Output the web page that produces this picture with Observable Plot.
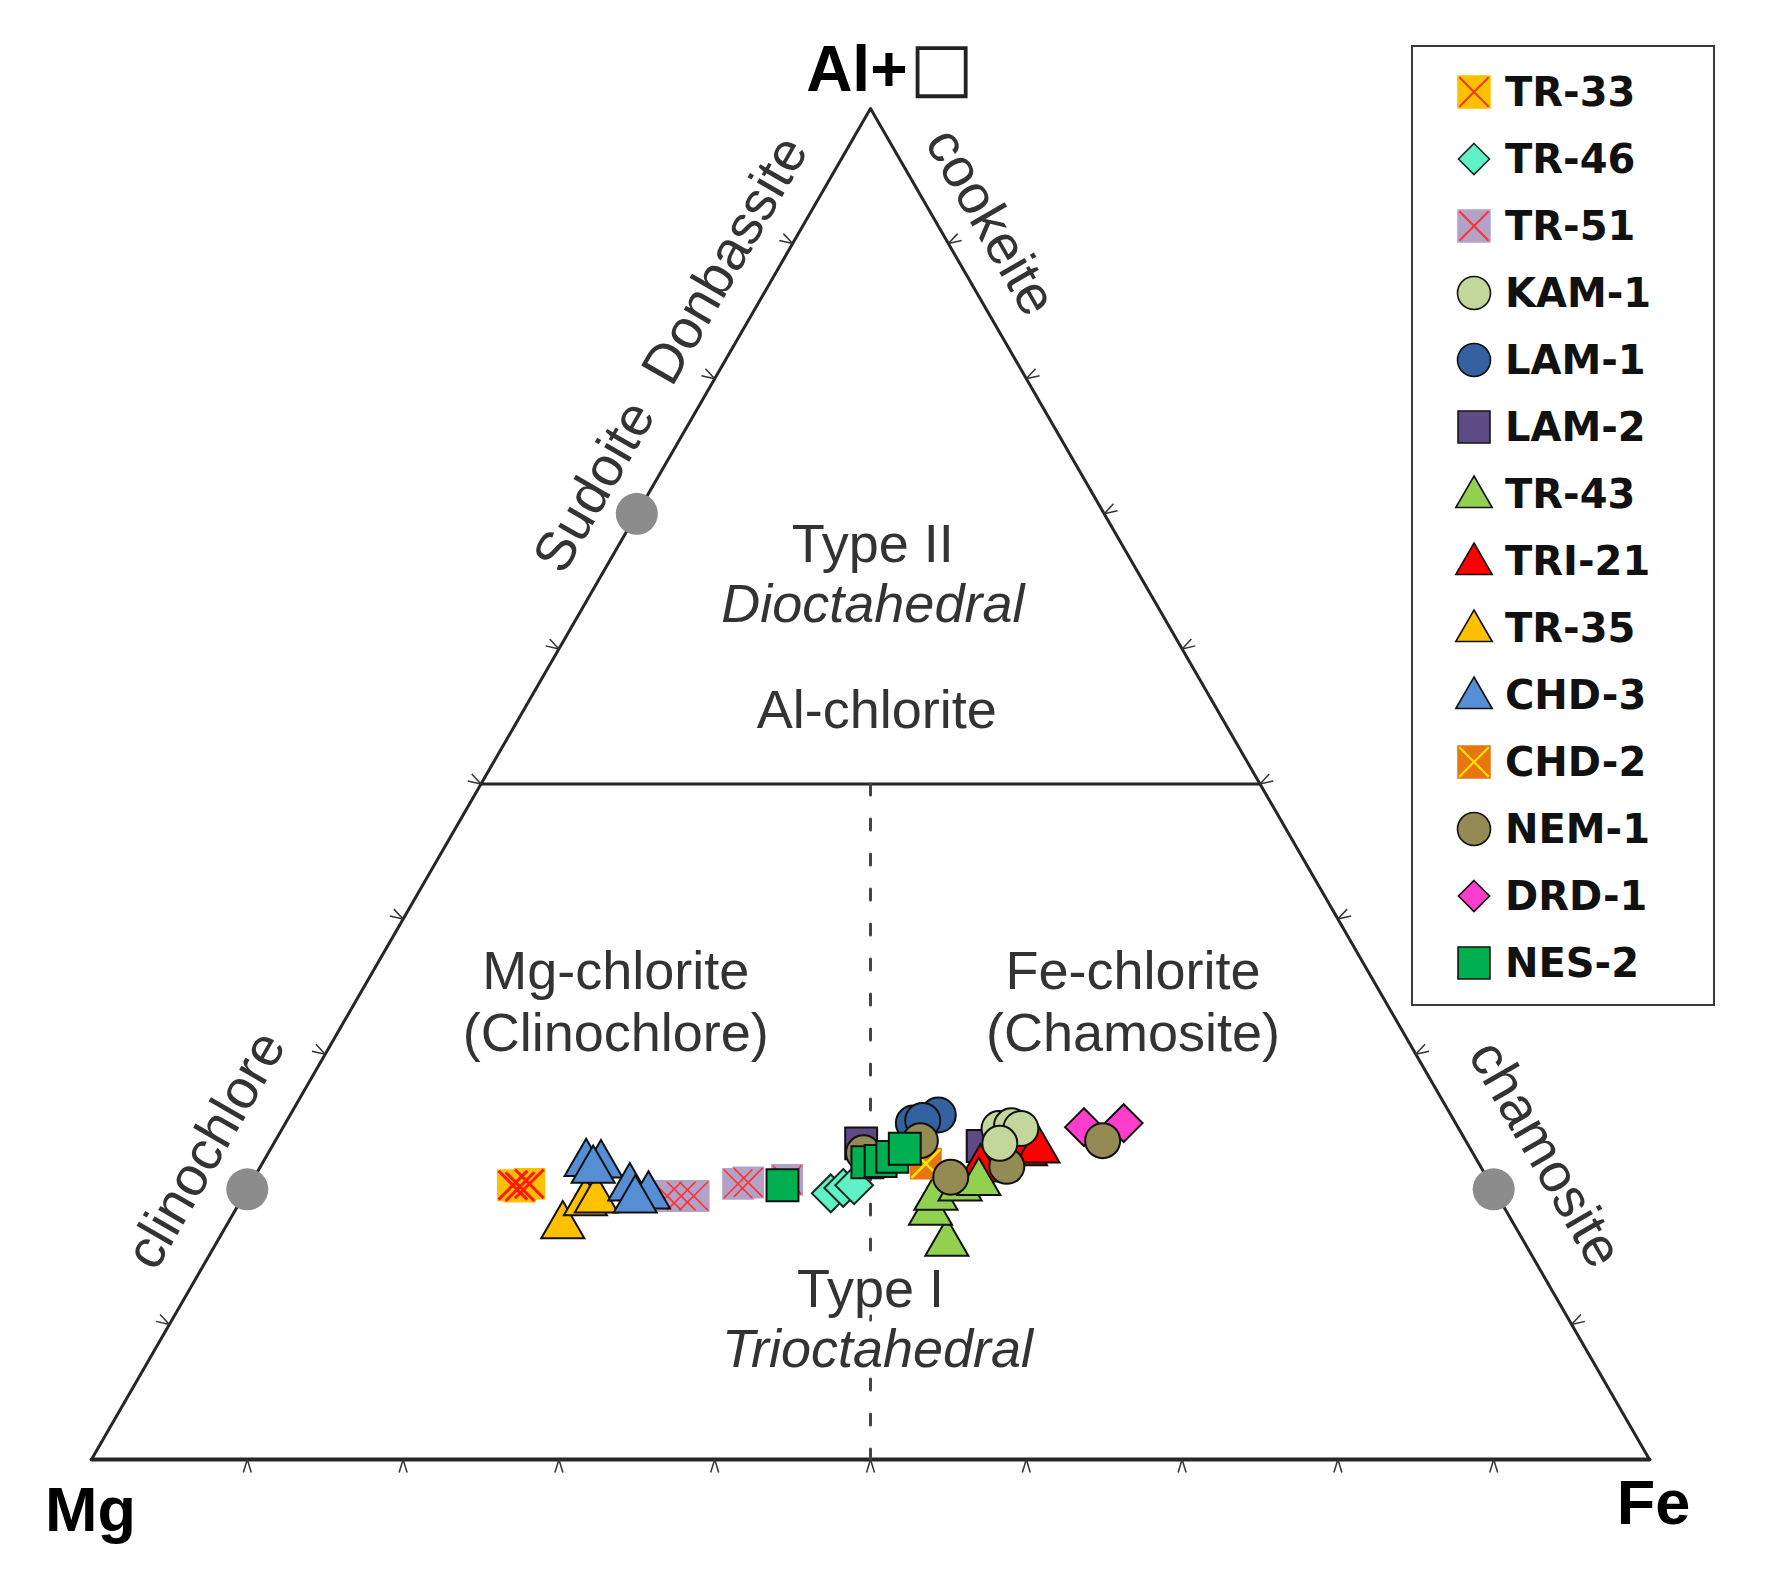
<!DOCTYPE html>
<html>
<head>
<meta charset="utf-8">
<script src="https://cdn.jsdelivr.net/npm/d3@7"></script>
<script src="https://cdn.jsdelivr.net/npm/@observablehq/plot@0.6"></script>
<style>
  body { margin: 0; background: #ffffff; }
  #wrap { position: relative; width: 1777px; height: 1590px; }
  #legend { position: absolute; left: 1411px; top: 45px; width: 300px; height: 957px;
            border: 2px solid #3a3a3a; background: #ffffff; }
  .row { position: absolute; left: 41px; height: 50px; display: flex; align-items: center;
         font: bold 40px "DejaVu Sans", sans-serif; color: #111; white-space: nowrap; }
  .row span { margin-left: 11px; }
</style>
</head>
<body>
<div id="wrap"></div>
<script>
// ---------------- DATA (ternary, percent: [Al+vacancy, Fe]; Mg = 100 - Al - Fe) ----------------
const sampleNames = ["TR-33","TR-46","TR-51","KAM-1","LAM-1","LAM-2","TR-43","TRI-21","TR-35","CHD-3","CHD-2","NEM-1","DRD-1","NES-2"];

const TR33  = [[20.3,16.9],[20.2,17.4],[20.4,17.9]];
const TR46  = [[19.7,37.6],[20.1,38.2],[20.3,38.8]];
const TR51  = [[19.5,27.2],[19.5,28.1],[19.5,28.9],[20.4,31.3],[20.5,31.9],[20.7,34.3]];
const KAM1  = [[24.5,46.0],[24.7,46.7],[24.5,47.4],[23.4,46.6]];
const LAM1  = [[24.9,40.3],[25.5,41.6],[25.1,40.8]];
const LAM2  = [[23.4,37.7],[23.2,45.6]];
const TR43  = [[16.0,46.9],[18.3,44.7],[19.4,44.5],[20.1,45.7],[20.5,46.7]];
const TRI21 = [[21.5,46.3],[22.7,48.6],[22.9,49.3]];
const TR35  = [[17.3,21.6],[19.0,22.2],[19.2,22.8]];
const CHD3  = [[21.9,20.8],[21.8,21.8],[21.4,21.5],[20.1,24.5],[19.5,26.0],[19.2,25.3]];
const CHD2  = [[21.9,42.6]];
const NEM1  = [[22.7,38.2],[23.6,41.4],[20.9,44.7],[21.7,47.9],[23.6,53.1]];
const DRD1  = [[24.6,51.4],[24.9,53.8]];
const NES2  = [[20.3,34.2],[22.0,38.8],[22.1,39.6],[22.4,40.2],[23.0,40.7]];

const seriesValues = {"TR-33":TR33,"TR-46":TR46,"TR-51":TR51,"KAM-1":KAM1,"LAM-1":LAM1,"LAM-2":LAM2,
  "TR-43":TR43,"TRI-21":TRI21,"TR-35":TR35,"CHD-3":CHD3,"CHD-2":CHD2,"NEM-1":NEM1,"DRD-1":DRD1,"NES-2":NES2};

// end-member reference points (grey dots)
const endMembers = [[70,0],[20,0],[20,80]];
// tick values along each side
const tickValues = [10,20,30,40,50,60,70,80,90];
// field labels [text, Al, Fe]
const fieldLabels = [["Type II",67.7,16.3],["Al-chlorite",55.4,22.7],["Mg-chlorite",36.1,15.6],
  ["(Clinochlore)",31.5,17.9],["Fe-chlorite",36.1,48.8],["(Chamosite)",31.5,51.1]];
const boxedLabels = [["Type I",12.6,43.7]];
const italicLabels = [["Dioctahedral",63.3,18.5]];
const boxedItalicLabels = [["Trioctahedral",8.1,46.4]];
// side labels [text, Al, Fe, rotation]
const sideLabels = [["Sudoite\u00a0\u00a0Donbassite",81.8,-3.7,-60],["clinochlore",22.9,-4.1,-60],
  ["cookeite",91.6,11.9,60],["chamosite",22.6,82.0,60]];

// ---------------- STYLES ----------------
const styles = {
  "TR-33":  {symbol:"square",   fill:"#ffc000", stroke:"none",    cross:"#ff1a00", crossW:3},
  "TR-46":  {symbol:"diamond2", fill:"#5ff2c6", stroke:"#1b2a20"},
  "TR-51":  {symbol:"square",   fill:"#b3a2c7", stroke:"none",    cross:"#ff3030", crossW:1.6},
  "KAM-1":  {symbol:"circle",   fill:"#c3d69b", stroke:"#111"},
  "LAM-1":  {symbol:"circle",   fill:"#3461a0", stroke:"#111"},
  "LAM-2":  {symbol:"square",   fill:"#5e4a84", stroke:"#111"},
  "TR-43":  {symbol:"triangle", fill:"#92d050", stroke:"#111"},
  "TRI-21": {symbol:"triangle", fill:"#ff0000", stroke:"#111"},
  "TR-35":  {symbol:"triangle", fill:"#ffc000", stroke:"#111"},
  "CHD-3":  {symbol:"triangle", fill:"#558ed5", stroke:"#111"},
  "CHD-2":  {symbol:"square",   fill:"#e8760f", stroke:"none",    cross:"#ffe800", crossW:2.5},
  "NEM-1":  {symbol:"circle",   fill:"#948a54", stroke:"#111"},
  "DRD-1":  {symbol:"diamond2", fill:"#ff3dcc", stroke:"#111"},
  "NES-2":  {symbol:"square",   fill:"#00b050", stroke:"#111"}
};
const plotR = {square:18, circle:17.5, triangle:16, diamond2:17};
const drawOrder = ["LAM-2","LAM-1","DRD-1","TRI-21","TR-43","CHD-2","NEM-1","KAM-1","TR-51","TR-46","NES-2","TR-35","CHD-3","TR-33"];

// ---------------- TERNARY HELPERS ----------------
const S3 = Math.sqrt(3) / 2;
const tern = ([Al, Fe]) => ({Al, Fe, Mg: 100 - Al - Fe});
const tx = d => (d.Fe + d.Al / 2) / 100;
const ty = d => (d.Al / 100) * S3;

const crossSymbol = {
  draw(ctx, size) {
    const w = Math.sqrt(size) / 2;
    ctx.moveTo(-w, -w); ctx.lineTo(w, w);
    ctx.moveTo(w, -w); ctx.lineTo(-w, w);
  }
};

// frame geometry in ternary
const vMg = {Al:0, Fe:0}, vFe = {Al:0, Fe:100}, vAl = {Al:100, Fe:0};
const sides = [vFe, vAl, vMg];
const boundary = [{Al:50, Fe:0}, {Al:50, Fe:50}];
const divider = [{Al:50, Fe:25}, {Al:0, Fe:50}];

// chevron ticks (length in x/y units, ~1558 px per unit)
const L = 13 / 1558, H = 4 / 1558;
const tickLinks = [];
for (const t of tickValues) {
  const f = t / 100;
  const edges = [
    {p:[f, 0],              tan:[1, 0],     n:[0, -1]},
    {p:[f / 2, f * S3],     tan:[0.5, S3],  n:[-S3, 0.5]},
    {p:[1 - f / 2, f * S3], tan:[-0.5, S3], n:[S3, 0.5]}
  ];
  for (const e of edges) {
    for (const s of [-1, 1]) {
      tickLinks.push({x1:e.p[0], y1:e.p[1],
        x2:e.p[0] + L * e.n[0] + s * H * e.tan[0],
        y2:e.p[1] + L * e.n[1] + s * H * e.tan[1]});
    }
  }
}

// ---------------- MARKS ----------------
const lineColor = "#262626", textColor = "#333333";
const marks = [
  Plot.line([vMg, vFe], {x: tx, y: ty, stroke: lineColor, strokeWidth: 4}),
  Plot.line(sides, {x: tx, y: ty, stroke: lineColor, strokeWidth: 3}),
  Plot.line(boundary, {x: tx, y: ty, stroke: lineColor, strokeWidth: 3}),
  Plot.line(divider, {x: tx, y: ty, stroke: "#444", strokeWidth: 3, strokeDasharray: "11,24"}),
  Plot.link(tickLinks, {x1: "x1", y1: "y1", x2: "x2", y2: "y2", stroke: "#333", strokeWidth: 1.5}),
  Plot.dot(endMembers.map(tern), {x: tx, y: ty, r: 21, fill: "#8c8c8c"})
];

for (const name of drawOrder) {
  const st = styles[name];
  const rows = seriesValues[name].map(tern);
  const r = plotR[st.symbol];
  marks.push(Plot.dot(rows, {x: tx, y: ty, r, symbol: st.symbol, fill: st.fill,
    stroke: st.stroke, strokeWidth: st.stroke === "none" ? 0 : 2}));
  if (st.cross) {
    marks.push(Plot.dot(rows, {x: tx, y: ty, r: r * 0.9, symbol: crossSymbol, fill: "none",
      stroke: st.cross, strokeWidth: st.crossW}));
  }
}

const font = "Liberation Sans, Arial, sans-serif";
const lab = arr => arr.map(([text, Al, Fe]) => ({text, Al, Fe}));
marks.push(
  Plot.text(lab(fieldLabels),
    {x: tx, y: ty, text: "text", fontSize: 54, fill: textColor, fontFamily: font}),
  Plot.text(lab(boxedLabels),
    {x: tx, y: ty, text: "text", fontSize: 54, fill: textColor, fontFamily: font,
     stroke: "#ffffff", strokeWidth: 14, paintOrder: "stroke"}),
  Plot.text(lab(italicLabels),
    {x: tx, y: ty, text: "text", fontSize: 54, fill: textColor, fontFamily: font, fontStyle: "italic"}),
  Plot.text(lab(boxedItalicLabels),
    {x: tx, y: ty, text: "text", fontSize: 54, fill: textColor, fontFamily: font, fontStyle: "italic",
     stroke: "#ffffff", strokeWidth: 14, paintOrder: "stroke"}),
  Plot.text(sideLabels.map(([text, Al, Fe, rot]) => ({text, Al, Fe, rot})),
    {x: tx, y: ty, text: "text", rotate: "rot", fontSize: 55, fill: textColor, fontFamily: font}),
  Plot.text([vMg], {x: tx, y: ty, text: () => "Mg", fontSize: 63, fontWeight: "bold", fill: "#000",
    fontFamily: font, dx: -1, dy: 51}),
  Plot.text([vFe], {x: tx, y: ty, text: () => "Fe", fontSize: 63, fontWeight: "bold", fill: "#000",
    fontFamily: font, dx: 4, dy: 44}),
  Plot.text([vAl], {x: tx, y: ty, text: () => "Al+", fontSize: 64, fontWeight: "bold", fill: "#000",
    fontFamily: font, textAnchor: "end", dx: 37, dy: -38}),
  Plot.text([vAl], {x: tx, y: ty, text: () => "\u25A1", fontSize: 68, fill: "#222",
    fontFamily: "DejaVu Sans", textAnchor: "middle", dx: 71, dy: -40})
);

const chart = Plot.plot({
  width: 1777,
  height: 1590,
  margin: 0,
  x: {domain: [0, 1], range: [91, 1649], axis: null},
  y: {domain: [0, S3], range: [1459, 108], axis: null},
  style: {background: "#ffffff", fontFamily: font},
  marks
});
const wrap = document.getElementById("wrap");
wrap.appendChild(chart);

// ---------------- LEGEND (HTML overlay) ----------------
const symMap = {square: d3.symbolSquare, circle: d3.symbolCircle, triangle: d3.symbolTriangle, diamond2: d3.symbolDiamond2};
const legR = {square: 18, circle: 16.5, triangle: 13.5, diamond2: 14};
const legend = document.createElement("div");
legend.id = "legend";
sampleNames.forEach((name, i) => {
  const st = styles[name];
  const r = legR[st.symbol];
  const size = Math.PI * r * r;
  const path = d3.symbol(symMap[st.symbol], size)();
  const yOff = st.symbol === "triangle" ? 3 : 0;
  let svg = `<svg width="40" height="40" viewBox="-20 -20 40 40"><path d="${path}" transform="translate(0,${yOff})" fill="${st.fill}" stroke="${st.stroke === "none" ? (st.cross ? st.fill : "none") : st.stroke}" stroke-width="1.6"/>`;
  if (st.cross) {
    const w = Math.sqrt(size) / 2 * 0.92;
    svg += `<path d="M${-w},${-w}L${w},${w}M${w},${-w}L${-w},${w}" stroke="${name === "TR-33" ? "#ee3b00" : st.cross}" stroke-width="2"/>`;
  }
  svg += `</svg>`;
  const row = document.createElement("div");
  row.className = "row";
  row.style.top = (45 + 67 * i - 25) + "px";
  row.innerHTML = svg + `<span>${name}</span>`;
  legend.appendChild(row);
});
wrap.appendChild(legend);
</script>
</body>
</html>
